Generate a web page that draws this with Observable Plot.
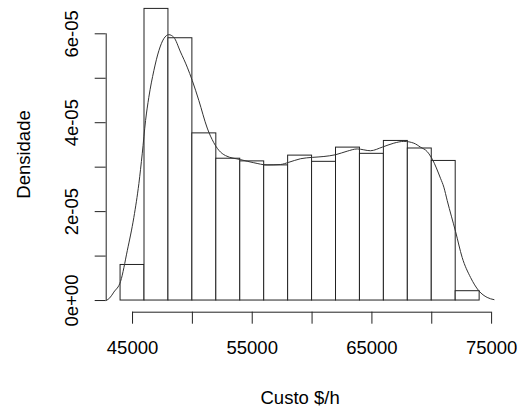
<!DOCTYPE html>
<html>
<head>
<meta charset="utf-8">
<script src="https://cdn.jsdelivr.net/npm/d3@7"></script>
<script src="https://cdn.jsdelivr.net/npm/@observablehq/plot@0.6"></script>
<style>
  html, body { margin: 0; padding: 0; background: #fff; }
  #chart svg { display: block; }
</style>
</head>
<body>
<div id="chart"></div>
<script>
// Histogram bins (Custo $/h) and densities
const binStarts = [44000, 46000, 48000, 50000, 52000, 54000, 56000, 58000, 60000, 62000, 64000, 66000, 68000, 70000, 72000];
const binWidth = 2000;
const binDensity = [0.80e-5, 6.56e-5, 5.90e-5, 3.76e-5, 3.19e-5, 3.13e-5, 3.04e-5, 3.26e-5, 3.12e-5, 3.44e-5, 3.30e-5, 3.59e-5, 3.42e-5, 3.14e-5, 0.21e-5];

// Kernel density curve
const densX = [42800, 43100, 43440, 44000, 44560, 45110, 45530, 45810, 46090, 46360, 46780, 47200, 47610, 48030, 48450, 49010, 49570, 49990, 50540, 51240, 51790, 52210, 52770, 54020, 55130, 56250, 57360, 58060, 59040, 60010, 60990, 61960, 62940, 63770, 64880, 65860, 66830, 67670, 68500, 69060, 69620, 70040, 70730, 71010, 71290, 71990, 72540, 73240, 73930, 74630, 75200];
const densY = [0.00, 0.06, 0.19, 0.43, 1.12, 1.87, 2.63, 3.30, 4.05, 4.57, 5.17, 5.62, 5.89, 5.98, 5.92, 5.59, 5.25, 4.95, 4.50, 3.88, 3.55, 3.38, 3.26, 3.17, 3.10, 3.05, 3.06, 3.11, 3.19, 3.22, 3.24, 3.28, 3.36, 3.41, 3.37, 3.45, 3.54, 3.58, 3.54, 3.45, 3.35, 3.18, 2.75, 2.55, 2.25, 1.55, 0.97, 0.52, 0.22, 0.07, 0.02].map(v => v * 1e-5);

// Axes
const xDomain = [42800, 75200];
const yDomain = [-0.2624e-5, 6e-5];
const xTicks = [45000, 50000, 55000, 60000, 65000, 70000, 75000];
const xLabels = [45000, 55000, 65000, 75000];
const yTicks = [0, 1e-5, 2e-5, 3e-5, 4e-5, 5e-5, 6e-5];
const yLabels = [0, 2e-5, 4e-5, 6e-5];
const yLabelText = ["0e+00", "2e-05", "4e-05", "6e-05"];
const xTitle = "Custo $/h";
const yTitle = "Densidade";

const bins = binStarts.map((s, i) => ({x1: s, x2: s + binWidth, y: binDensity[i]}));
const curve = densX.map((x, i) => ({x, y: densY[i]}));
const yLab = yLabels.map((v, i) => ({v, t: yLabelText[i]}));

const font = 18.5;
const ink = "#222";

const chart = Plot.plot({
  width: 521,
  height: 408,
  marginLeft: 105.7,
  marginRight: 27.5,
  marginTop: 33.3,
  marginBottom: 96.3,
  style: {fontFamily: "'Liberation Sans', Arial, sans-serif", color: "#000", background: "#fff"},
  x: {domain: xDomain, label: null},
  y: {domain: yDomain, label: null},
  marks: [
    Plot.rectY(bins, {x1: "x1", x2: "x2", y: "y", fill: "white", stroke: ink, strokeWidth: 1}),
    Plot.line(curve, {x: "x", y: "y", stroke: "#333", strokeWidth: 1, curve: "monotone-x"}),
    // x axis
    Plot.ruleY([yDomain[0]], {x1: xTicks[0], x2: xTicks[xTicks.length - 1], stroke: ink}),
    Plot.axisX({ticks: xTicks, tickSize: 12, tickFormat: () => "", label: null, stroke: ink}),
    Plot.text(xLabels, {x: d => d, frameAnchor: "bottom", lineAnchor: "middle", dy: 36, text: d => String(d), fontSize: font, textAnchor: "middle", fill: "#000"}),
    // y axis
    Plot.ruleX([xDomain[0]], {y1: yTicks[0], y2: yTicks[yTicks.length - 1], stroke: ink}),
    Plot.axisY({ticks: yTicks, tickSize: 11, tickFormat: () => "", label: null, stroke: ink}),
    Plot.text(yLab, {y: "v", frameAnchor: "left", lineAnchor: "middle", dx: -34, text: "t", rotate: -90, fontSize: font, textAnchor: "middle", fill: "#000"}),
    // titles
    Plot.text([xTitle], {frameAnchor: "bottom", lineAnchor: "middle", dy: 86, text: d => d, fontSize: font, textAnchor: "middle", fill: "#000"}),
    Plot.text([yTitle], {frameAnchor: "left", lineAnchor: "middle", dx: -82.5, dy: -18.5, text: d => d, rotate: -90, fontSize: font, textAnchor: "middle", fill: "#000"})
  ]
});
document.getElementById("chart").appendChild(chart);
</script>
</body>
</html>
